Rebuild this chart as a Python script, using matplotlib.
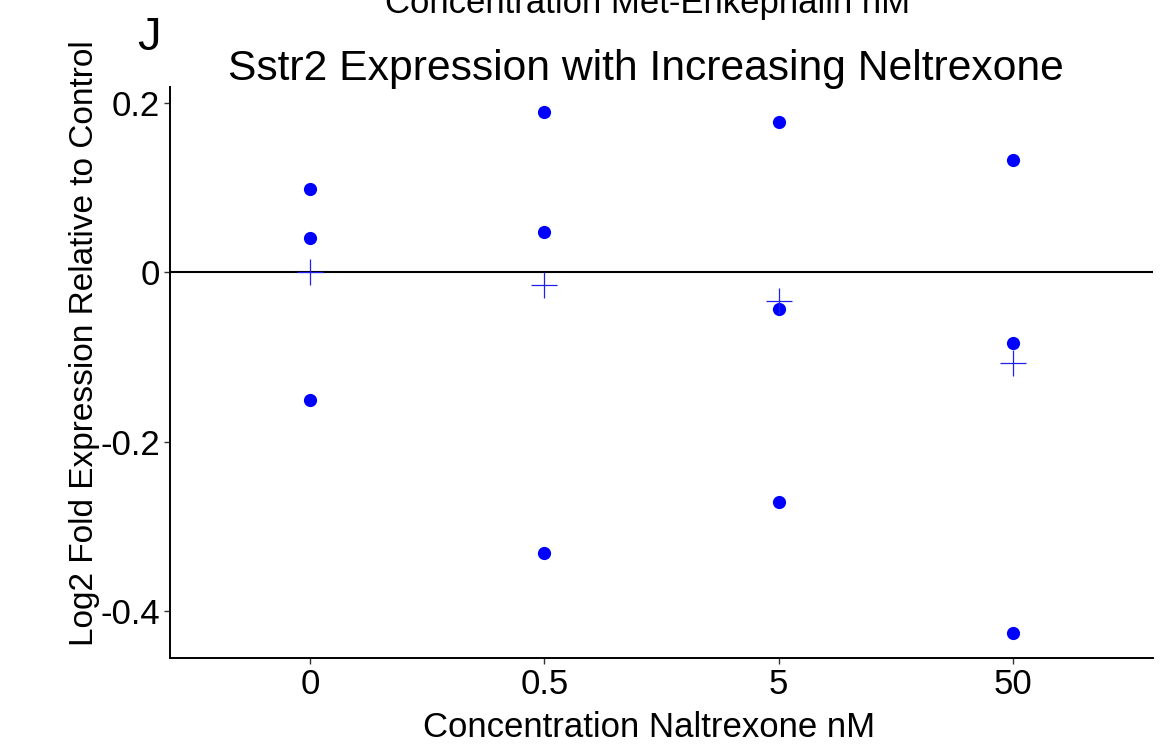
import numpy as np
import matplotlib.pyplot as plt

plt.rcParams['font.family'] = ['Liberation Sans', 'DejaVu Sans']

# data
conc_labels = ["0", "0.5", "5", "50"]
rep1 = [0.098, 0.189, 0.177, 0.132]
rep2 = [0.040, 0.047, -0.043, -0.083]
rep3 = [-0.151, -0.331, -0.271, -0.425]
group_mean = [0.0, -0.015, -0.034, -0.107]

fig = plt.figure(figsize=(11.75, 7.47), dpi=100)
ax = fig.add_axes([170 / 1175, 1 - 658 / 747, (1153 - 170) / 1175, (658 - 87) / 747])

xpos = np.arange(1, len(conc_labels) + 1)
ax.axhline(0, color='black', lw=1.5, zorder=1)
for reps in (rep1, rep2, rep3):
    ax.plot(xpos, reps, 'o', color='#0000ff', ms=9.5, mec='none', zorder=3)
ax.plot(xpos, group_mean, '+', color='#2020ee', ms=19, mew=0.9, zorder=4)

ax.set_xlim(0.4, 4.6)
ax.set_ylim(-0.455, 0.2185)
ax.set_xticks(xpos)
ax.set_xticklabels(conc_labels)
ax.set_yticks([-0.4, -0.2, 0, 0.2])
ax.set_yticklabels(["-0.4", "-0.2", "0", "0.2"])
ax.tick_params(labelsize=25, length=4, width=1, color='#333333', pad=3)

for side in ('top', 'right'):
    ax.spines[side].set_visible(False)
for side in ('left', 'bottom'):
    ax.spines[side].set_linewidth(1.4)

# titles and labels placed in figure coordinates
fig.text(648 / 1175, 1 - 13 / 747, "Concentration Met-Enkephalin nM",
         ha='center', va='baseline', fontsize=25)
fig.text(149 / 1175, 1 - 50 / 747, "J", ha='center', va='baseline', fontsize=34)
fig.text(646 / 1175, 1 - 80 / 747, "Sstr2 Expression with Increasing Neltrexone",
         ha='center', va='baseline', fontsize=30.7)
fig.text(649 / 1175, 1 - 737 / 747, "Concentration Naltrexone nM",
         ha='center', va='baseline', fontsize=25)
fig.text(85 / 1175, 1 - 343 / 747, "Log2 Fold Expression Relative to Control",
         ha='center', va='center', rotation=90, fontsize=24)

fig.savefig("out.png", dpi=100)
